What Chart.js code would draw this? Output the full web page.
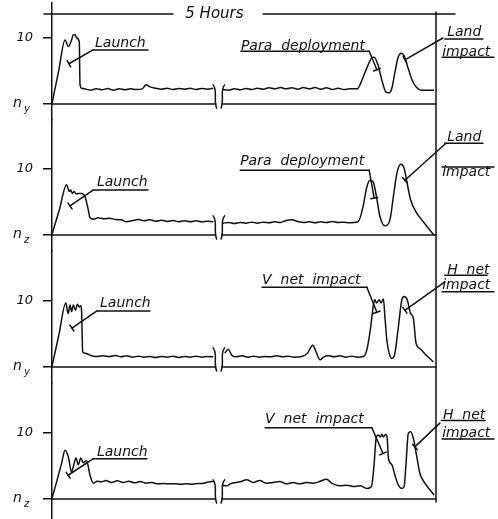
<!DOCTYPE html>
<html>
<head>
<meta charset="utf-8">
<script src="https://cdn.jsdelivr.net/npm/chart.js@4"></script>
<style>
  body { margin: 0; background: #fff; }
  canvas { display: block; }
</style>
</head>
<body>
<canvas id="chart" width="498" height="519"></canvas>
<script>
// time runs 0..100 across the trace, with a break (the 5 hours) at ~43.5
const timeA = [0, 1.7, 3.4, 4.25, 5.1, 5.55, 6.0, 6.4, 7.1, 7.3, 7.7, 8.5, 10, 11.5, 13, 14.5, 16, 17.5, 19, 20.5, 22, 23.5, 24.5, 25.5, 27, 28.5, 30, 31.5, 33, 34.5, 36, 37.5, 39, 40.5, 42, 43.5, 44.5, 46, 47.5, 49, 50.5, 52, 53.5, 55, 56.5, 58, 59.5, 61, 62.5, 64, 65.5, 67, 68.5, 70, 71.5, 73, 74.5, 76, 77.5, 79.5, 80.7, 82.3, 83.3, 83.9, 84.9, 85.9, 87, 87.8, 88.5, 89.3, 90.1, 90.9, 91.7, 92.7, 93.8, 94.8, 96.1, 99.5];
const loadA = [0.1, 4.9, 9.7, 8.7, 9.7, 10.5, 10.5, 10.0, 9.4, 2.9, 2.4, 2.3, 2.1, 2.3, 2.15, 2.35, 2.1, 2.3, 2.15, 2.3, 2.2, 2.3, 2.9, 2.6, 2.4, 2.25, 2.4, 2.2, 2.35, 2.25, 2.4, 2.2, 2.35, 2.25, 2.4, null, 2.2, 2.1, 2.3, 2.15, 2.35, 2.2, 2.4, 2.25, 2.45, 2.3, 2.5, 2.3, 2.45, 2.25, 2.5, 2.3, 2.5, 2.25, 2.45, 2.2, 2.4, 2.2, 2.3, 2.3, 3.6, 5.9, 7.0, 7.1, 5.9, 3.6, 1.8, 1.7, 2.4, 4.8, 7.0, 7.7, 7.3, 5.5, 3.6, 2.6, 2.1, 2.1];

const timeB = [0, 1.9, 3.8, 4.5, 4.87, 5.3, 5.8, 6.25, 6.85, 7.7, 8.6, 9.45, 9.9, 10.8, 12, 13.5, 15, 16.5, 18, 19.5, 21, 22.5, 24, 25.5, 27, 28.5, 30, 31.5, 33, 34.5, 36, 37.5, 39, 40.5, 42, 43.5, 44.5, 46, 47.5, 49, 50.5, 52, 53.5, 55, 56.5, 58, 59.5, 61, 62.5, 64, 65.5, 67, 68.5, 70, 71.5, 73, 74.5, 76, 77.5, 79.7, 81, 82, 82.8, 83.6, 84.5, 85.4, 86.7, 88, 88.9, 89.8, 90.8, 91.7, 92.5, 93.4, 95, 96.7, 98.4, 99.5];
const loadB = [0.1, 3.8, 7.6, 6.6, 6.8, 6.3, 6.6, 6.2, 6.3, 6.3, 5.8, 3.8, 2.6, 2.4, 2.6, 2.45, 2.55, 2.35, 2.3, 2.0, 2.2, 2.35, 2.15, 2.3, 2.1, 2.25, 2.05, 2.2, 2.0, 2.15, 2.0, 2.15, 2.0, 2.1, 2.0, null, 1.8, 1.9, 1.75, 1.9, 1.8, 1.95, 1.8, 1.95, 1.85, 2.0, 1.9, 2.2, 2.3, 2.05, 1.9, 2.0, 1.85, 2.0, 1.9, 2.05, 1.9, 1.95, 1.85, 2.0, 4.3, 7.3, 8.3, 8.1, 5.8, 2.8, 1.4, 2.3, 5.8, 9.3, 10.7, 10.1, 7.8, 5.3, 3.3, 2.0, 0.75, 0];

const timeC = [0, 1.8, 3.6, 4.2, 4.7, 5.1, 5.55, 6.1, 6.6, 7.1, 7.5, 7.7, 8.0, 8.6, 9.9, 11.2, 13.3, 15, 16.5, 18, 19.5, 21, 22.5, 24, 25.5, 27, 28.5, 30, 31.5, 33, 34.5, 36, 37.5, 39, 40.5, 42, 43.5, 45, 45.9, 46.8, 48, 49.5, 51, 52.5, 54, 55.5, 57, 58.5, 60, 61.5, 63, 65, 66.5, 67.9, 68.9, 69.8, 70.7, 72, 73.5, 75, 76.5, 78, 79.5, 81.1, 82, 83, 83.7, 84.1, 84.5, 85.2, 85.7, 86.3, 86.7, 87.2, 87.8, 88.5, 89.3, 90.2, 91.1, 91.7, 92.5, 93.4, 94.1, 94.8, 95.8, 97.6, 99.3];
const loadC = [0.1, 4.9, 9.7, 8.1, 9.4, 8.4, 9.4, 8.6, 9.5, 9.1, 9.3, 8.5, 2.3, 2.1, 1.8, 1.6, 1.7, 1.6, 1.75, 1.55, 1.7, 1.5, 1.65, 1.5, 1.6, 1.45, 1.6, 1.5, 1.65, 1.45, 1.6, 1.5, 1.65, 1.5, 1.6, 1.55, null, 2.1, 2.7, 1.8, 1.55, 1.7, 1.5, 1.65, 1.5, 1.6, 1.55, 1.7, 1.55, 1.65, 1.5, 1.6, 2.1, 3.3, 2.1, 1.1, 1.5, 1.7, 1.55, 1.7, 1.5, 1.65, 1.5, 1.6, 2.6, 6.1, 9.4, 10.2, 9.7, 10.2, 9.7, 10.3, 7.6, 4.1, 2.1, 1.3, 2.1, 6.1, 10.2, 10.7, 10.2, 8.1, 7.4, 3.6, 2.8, 1.7, 0.8];

const timeD = [0, 1.2, 2.5, 3.4, 4.25, 5.1, 5.55, 6.25, 6.85, 7.5, 8.15, 9.0, 9.9, 10.8, 11.8, 12.9, 14, 15.5, 17, 18.5, 20, 21.5, 23, 24.5, 26, 27.5, 29, 30.5, 32, 33.5, 35, 36.5, 38, 39.5, 41, 42.2, 43.5, 44.2, 45.5, 46.5, 49, 50.7, 52.4, 54.1, 55.8, 57.6, 59.3, 61, 62.8, 64.5, 66.2, 68, 69.7, 71.5, 72.8, 75, 76.7, 78.5, 80.2, 82, 83.2, 83.9, 84.4, 85, 85.5, 85.9, 86.3, 86.9, 87.3, 87.6, 88.5, 89.3, 90.2, 91.1, 91.7, 92.2, 92.8, 93.4, 94.1, 95, 95.8, 97.1, 98.4, 99.5];
const loadD = [0.1, 2.6, 5.4, 7.4, 6.4, 4.1, 4.9, 6.2, 5.2, 6.2, 5.5, 5.8, 3.6, 2.4, 2.7, 2.6, 2.8, 2.5, 2.75, 2.5, 2.7, 2.45, 2.65, 2.4, 2.5, 2.3, 2.35, 2.3, 2.3, 2.25, 2.3, 2.25, 2.35, 2.4, 2.6, 2.65, null, 2.1, 2.0, 2.3, 2.6, 2.9, 2.5, 2.8, 2.4, 2.5, 2.65, 2.3, 2.5, 2.3, 2.5, 2.4, 2.65, 3.0, 2.4, 2.0, 2.1, 1.9, 2.0, 1.6, 1.9, 5.4, 9.2, 9.7, 9.4, 9.8, 9.4, 9.8, 9.2, 6.2, 5.2, 3.6, 2.1, 1.6, 1.9, 5.4, 10.0, 10.2, 9.2, 6.4, 3.9, 2.4, 1.4, 0.6];

const axisSubs = ["y", "z", "y", "z"];
const tickValues = [0, 10];
const breakAt = [42.6, 44.3];
const headerText = "5 Hours";

// callouts: text lines [text, t, v], rules [t0, t1, v], leader [t0, v0, t1, v1]
const notes = [
    { panel: 0, text: [["Launch", 11.2, 9.2]], rules: [[10.7, 25, 8.2]], leader: [10.7, 8.2, 4.4, 6.1] },
    { panel: 0, text: [["Para  deployment", 49.2, 8.8]], rules: [[49.2, 82.6, 8.0]], leader: [82.6, 8.0, 84.6, 5.2] },
    { panel: 0, text: [["Land", 102.9, 10.8], ["impact", 101.6, 7.9]], rules: [[102.3, 112.2, 9.85], [101.6, 115.1, 7.1]], leader: [101.8, 10.0, 91.9, 6.7] },

    { panel: 1, text: [["Launch", 11.7, 7.9]], rules: [[10.7, 25, 6.8]], leader: [10.7, 6.8, 4.7, 4.4] },
    { panel: 1, text: [["Para  deployment", 49, 11.1]], rules: [[49, 82.6, 9.8]], leader: [82.6, 9.8, 83.9, 5.6] },
    { panel: 1, text: [["Land", 102.9, 14.8], ["impact", 101.6, 9.5]], rules: [[102.3, 112.2, 13.9], [101.6, 115.1, 10.3]], leader: [102.6, 13.9, 91.9, 8.3] },

    { panel: 2, text: [["Launch", 12.5, 9.7]], rules: [[11.7, 25.5, 8.5]], leader: [11.7, 8.5, 5.2, 5.9] },
    { panel: 2, text: [["V  net  impact", 54.7, 13.2]], rules: [[54.7, 82, 12.1]], leader: [82, 12.1, 84.6, 8.3] },
    { panel: 2, text: [["H  net", 102.9, 14.7], ["impact", 101.6, 12.3]], rules: [[102.3, 113.3, 13.9], [101.6, 115.1, 11.4]], leader: [102.3, 12.9, 91.9, 8.6] },

    { panel: 3, text: [["Launch", 11.7, 7.0]], rules: [[10.7, 24.7, 6.1]], leader: [10.7, 6.1, 4.2, 3.6] },
    { panel: 3, text: [["V  net  impact", 55.5, 12.0]], rules: [[55.5, 83.3, 10.8]], leader: [83.3, 10.8, 86.2, 6.9] },
    { panel: 3, text: [["H  net", 101.8, 12.7], ["impact", 101.6, 10.0]], rules: [[101.4, 112.8, 11.9], [101.6, 115.1, 9.1]], leader: [101, 11.5, 94.5, 7.9] }
];

const ink = "#111";
const font = '"DejaVu Sans", sans-serif';
const panelIds = ["p1", "p2", "p3", "p4"];

function yScale(min, max, weight) {
    return {
        type: "linear",
        position: "left",
        stack: "panels",
        stackWeight: weight,
        min: min,
        max: max,
        afterBuildTicks: s => { s.ticks = tickValues.map(v => ({ value: v })); },
        afterFit: s => {
            s.width = 52;
            // no extra room for label overhang, panels fill the full height
            s.paddingTop = 0;
            s.paddingBottom = 0;
        },
        ticks: {
            color: ink,
            padding: 10,
            font: { family: font, size: 13, style: "italic" },
            callback: v => (v === 10 ? "10" : "")
        },
        grid: { drawOnChartArea: false, color: ink, lineWidth: 1.5, tickLength: 9 },
        border: { display: true, color: ink, width: 1.5 }
    };
}

const sketch = {
    id: "sketch",
    afterDatasetsDraw(chart) {
        const { ctx, chartArea: a, scales } = chart;
        const xs = scales.x;
        const X = t => xs.getPixelForValue(t);
        const line = (x0, y0, x1, y1) => { ctx.beginPath(); ctx.moveTo(x0, y0); ctx.lineTo(x1, y1); ctx.stroke(); };

        ctx.save();
        ctx.strokeStyle = ink;
        ctx.fillStyle = ink;
        ctx.lineWidth = 1.5;
        ctx.lineCap = "round";

        panelIds.forEach((id, i) => {
            const ys = scales[id];
            const y0 = ys.getPixelForValue(0);
            line(a.left, y0, X(breakAt[0]), y0);
            line(X(breakAt[1]), y0, a.right, y0);

            // break marks
            const top = ys.getPixelForValue(2.9);
            breakAt.forEach((t, k) => {
                const bx = X(t);
                const d = k === 0 ? 2.5 : -2.5;
                ctx.beginPath();
                ctx.moveTo(bx - d, top);
                ctx.bezierCurveTo(bx + d, top + 6, bx - d, y0 - 6, bx + d * 0.4, y0 + 4);
                ctx.stroke();
            });

            // axis name
            ctx.font = "italic 14px " + font;
            ctx.textAlign = "left";
            ctx.textBaseline = "middle";
            ctx.fillText("n", 13, y0 - 1);
            ctx.font = "italic 10px " + font;
            ctx.fillText(axisSubs[i], 24, y0 + 5);
        });

        // callouts
        ctx.font = "italic 14px " + font;
        ctx.textAlign = "left";
        ctx.textBaseline = "middle";
        notes.forEach(n => {
            const ys = scales[panelIds[n.panel]];
            const Y = v => ys.getPixelForValue(v);
            n.text.forEach(([s, t, v]) => ctx.fillText(s, X(t), Y(v)));
            n.rules.forEach(([t0, t1, v]) => line(X(t0), Y(v), X(t1), Y(v)));
            const [t0, v0, t1, v1] = n.leader;
            const x0 = X(t0), y0 = Y(v0), x1 = X(t1), y1 = Y(v1);
            line(x0, y0, x1, y1);
            const len = Math.hypot(x1 - x0, y1 - y0);
            const nx = -(y1 - y0) / len * 3.5, ny = (x1 - x0) / len * 3.5;
            line(x1 - nx, y1 - ny, x1 + nx, y1 + ny);
        });

        // header and right edge
        const hy = a.top + 11;
        line(a.left - 8, hy, X(31.5), hy);
        line(X(55), hy, a.right + 19, hy);
        ctx.font = "italic 15px " + font;
        ctx.textAlign = "center";
        ctx.fillText(headerText, X(42.3), hy);
        line(a.right, a.top + 9, a.right, scales.p4.getPixelForValue(0) + 3);

        ctx.restore();
    }
};

const series = [[timeA, loadA], [timeB, loadB], [timeC, loadC], [timeD, loadD]];

new Chart(document.getElementById("chart"), {
    type: "line",
    data: {
        datasets: series.map(([time, load], i) => ({
            data: time.map((t, k) => ({ x: t, y: load[k] })),
            yAxisID: panelIds[i],
            borderColor: ink,
            borderWidth: 1.5,
            pointRadius: 0,
            fill: false,
            spanGaps: false,
            cubicInterpolationMode: "monotone"
        }))
    },
    options: {
        responsive: false,
        animation: false,
        devicePixelRatio: 1,
        layout: { padding: { top: 3, right: 62, bottom: 0, left: 0 } },
        plugins: { legend: { display: false }, tooltip: { enabled: false } },
        // left stacked axes are laid out last-defined on top, so the bottom panel comes first
        scales: {
            x: { type: "linear", min: 0, max: 100, display: false },
            p4: yScale(-3.03, 17.58, 136),
            p3: yScale(-2.42, 17.58, 132),
            p2: yScale(-2.42, 17.42, 131),
            p1: yScale(-2.42, 15.3, 117)
        }
    },
    plugins: [sketch]
});
</script>
</body>
</html>
